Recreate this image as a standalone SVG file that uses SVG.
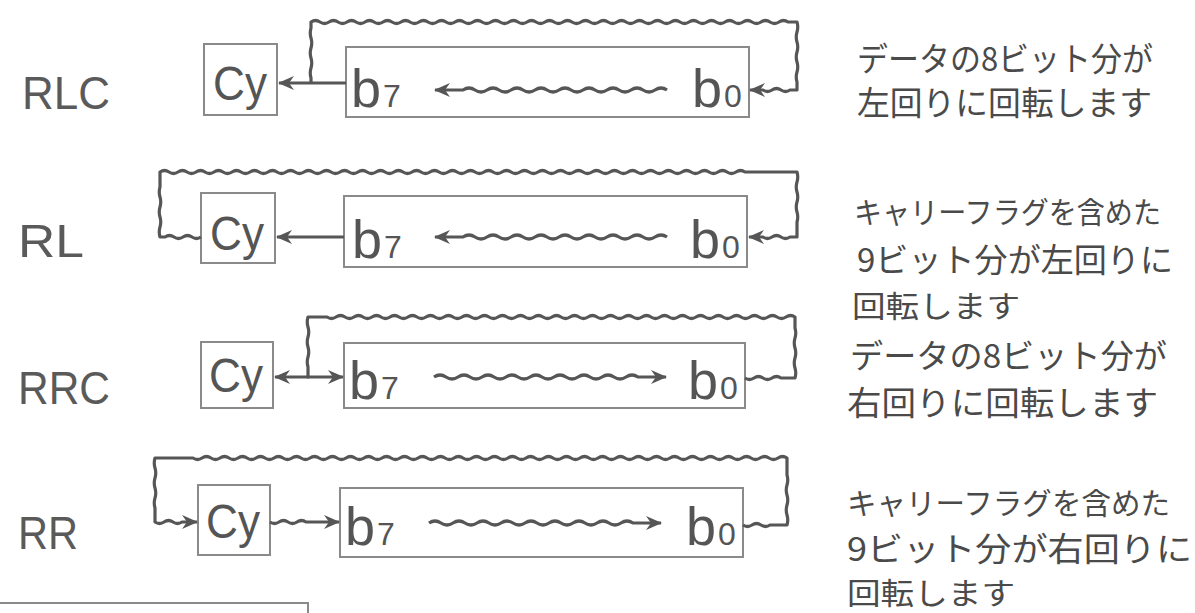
<svg xmlns="http://www.w3.org/2000/svg" width="1195" height="613" viewBox="0 0 1195 613">
<defs>
<style>
.box{fill:none;stroke:#8a8a8a;stroke-width:2}
.ln{fill:none;stroke:#565656;stroke-width:3.2;stroke-linejoin:round}
.arr{marker-end:url(#ah)}
.lab{font-family:"Liberation Sans",Arial,sans-serif;font-size:46px;fill:#5a5a5a}
.cy{font-family:"Liberation Sans",Arial,sans-serif;font-size:48px;fill:#555}
.bt{font-family:"Liberation Sans",Arial,sans-serif;font-size:54px;fill:#555}
.sub{font-size:32px}
.jp{font-family:"Noto Sans CJK JP","Noto Sans CJK SC",sans-serif;font-size:33px;fill:#4a4a4a}
.jpw{font-size:30px}
</style>
<marker id="ah" viewBox="0 0 16 14" refX="15" refY="7" markerWidth="16" markerHeight="14" markerUnits="userSpaceOnUse" orient="auto">
<path d="M0,0 L16,7 L0,14 L5,7 Z" fill="#565656"/>
</marker>
</defs>
<rect width="1195" height="613" fill="#ffffff"/>

<g id="row-rlc">
<text class="lab" x="22" y="109" textLength="88" lengthAdjust="spacingAndGlyphs">RLC</text>
<g id="rlc-cy"><rect class="box" x="204" y="44" width="73" height="71"/><text class="cy" x="213" y="100" textLength="54" lengthAdjust="spacingAndGlyphs">Cy</text></g>
<g id="rlc-bits"><rect class="box" x="346" y="47" width="403" height="70"/>
<text class="bt" x="351" y="107">b<tspan class="sub" dx="2">7</tspan></text>
<text class="bt" x="692" y="107">b<tspan class="sub" dx="2">0</tspan></text></g>
</g>

<g id="row-rl">
<text class="lab" x="18" y="257" textLength="66" lengthAdjust="spacingAndGlyphs">RL</text>
<g id="rl-cy"><rect class="box" x="201" y="193" width="74" height="70"/><text class="cy" x="210" y="250" textLength="54" lengthAdjust="spacingAndGlyphs">Cy</text></g>
<g id="rl-bits"><rect class="box" x="344" y="196" width="403" height="71"/>
<text class="bt" x="352" y="258">b<tspan class="sub" dx="2">7</tspan></text>
<text class="bt" x="690" y="258">b<tspan class="sub" dx="2">0</tspan></text></g>
</g>

<g id="row-rrc">
<text class="lab" x="18" y="404" textLength="92" lengthAdjust="spacingAndGlyphs">RRC</text>
<g id="rrc-cy"><rect class="box" x="201" y="342" width="72" height="66"/><text class="cy" x="209" y="392" textLength="54" lengthAdjust="spacingAndGlyphs">Cy</text></g>
<g id="rrc-bits"><rect class="box" x="344" y="343" width="401" height="65"/>
<text class="bt" x="349" y="399">b<tspan class="sub" dx="2">7</tspan></text>
<text class="bt" x="688" y="399">b<tspan class="sub" dx="2">0</tspan></text></g>
</g>

<g id="row-rr">
<text class="lab" x="18" y="549" textLength="60" lengthAdjust="spacingAndGlyphs">RR</text>
<g id="rr-cy"><rect class="box" x="198" y="485" width="72" height="70"/><text class="cy" x="206" y="538" textLength="54" lengthAdjust="spacingAndGlyphs">Cy</text></g>
<g id="rr-bits"><rect class="box" x="340" y="488" width="403" height="69"/>
<text class="bt" x="345" y="545">b<tspan class="sub" dx="2">7</tspan></text>
<text class="bt" x="686" y="545">b<tspan class="sub" dx="2">0</tspan></text></g>
</g>

<g id="connectors">
<!-- RLC -->
<path class="ln" d="M311,83 V78 q-1.5,-5 0,-10 t0,-10 t0,-10 t0,-10 t0,-10 V22 q4.5,-3 9,0 t9,0 t9,0 t9,0 t9,0 t9,0 t9,0 t9,0 t9,0 t9,0 t9,0 t9,0 t9,0 t9,0 t9,0 t9,0 t9,0 t9,0 t9,0 t9,0 t9,0 t9,0 t9,0 t9,0 t9,0 t9,0 t9,0 t9,0 t9,0 t9,0 t9,0 t9,0 t9,0 t9,0 t9,0 t9,0 t9,0 t9,0 t9,0 t9,0 t9,0 t9,0 t9,0 t9,0 t9,0 t9,0 t9,0 t9,0 t9,0 t9,0 t9,0 t9,0 t9,0 H797 q1.5,5 0,10 t0,10 t0,10 t0,10 t0,10 t0,10 V90 H790 q-4.5,3 -9,0 t-9,0 t-9,0 H750" marker-end="url(#ah)"/>
<path class="ln arr" d="M346,83 H279"/>
<path class="ln arr" d="M667,90 q-6,-4 -12,0 t-12,0 t-12,0 t-12,0 t-12,0 t-12,0 t-12,0 t-12,0 t-12,0 t-12,0 t-12,0 t-12,0 t-12,0 t-12,0 t-12,0 t-12,0 t-12,0 H435"/>
<!-- RL -->
<path class="ln" d="M201,237 q-4.5,3 -9,0 t-9,0 t-9,0 t-9,0 H160 q-1.5,-5 0,-10 t0,-10 t0,-10 t0,-10 t0,-10 V172 q4.5,-3 9,0 t9,0 t9,0 t9,0 t9,0 t9,0 t9,0 t9,0 t9,0 t9,0 t9,0 t9,0 t9,0 t9,0 t9,0 t9,0 t9,0 t9,0 t9,0 t9,0 t9,0 t9,0 t9,0 t9,0 t9,0 t9,0 t9,0 t9,0 t9,0 t9,0 t9,0 t9,0 t9,0 t9,0 t9,0 t9,0 t9,0 t9,0 t9,0 t9,0 t9,0 t9,0 t9,0 t9,0 t9,0 t9,0 t9,0 t9,0 t9,0 t9,0 t9,0 t9,0 t9,0 t9,0 t9,0 t9,0 t9,0 t9,0 t9,0 t9,0 t9,0 t9,0 t9,0 t9,0 t9,0 H797 q1.5,5 0,10 t0,10 t0,10 t0,10 t0,10 V237 H790 q-4.5,3 -9,0 t-9,0 t-9,0 H749" marker-end="url(#ah)"/>
<path class="ln arr" d="M344,237 H277"/>
<path class="ln arr" d="M667,237 q-6,-4 -12,0 t-12,0 t-12,0 t-12,0 t-12,0 t-12,0 t-12,0 t-12,0 t-12,0 t-12,0 t-12,0 t-12,0 t-12,0 t-12,0 t-12,0 t-12,0 t-12,0 H435"/>
<!-- RRC -->
<path class="ln" d="M745,378 q4.5,3 9,0 t9,0 t9,0 t9,0 H795 q1.5,-5 0,-10 t0,-10 t0,-10 t0,-10 t0,-10 V317 q-4.5,-3 -9,0 t-9,0 t-9,0 t-9,0 t-9,0 t-9,0 t-9,0 t-9,0 t-9,0 t-9,0 t-9,0 t-9,0 t-9,0 t-9,0 t-9,0 t-9,0 t-9,0 t-9,0 t-9,0 t-9,0 t-9,0 t-9,0 t-9,0 t-9,0 t-9,0 t-9,0 t-9,0 t-9,0 t-9,0 t-9,0 t-9,0 t-9,0 t-9,0 t-9,0 t-9,0 t-9,0 t-9,0 t-9,0 t-9,0 t-9,0 t-9,0 t-9,0 t-9,0 t-9,0 t-9,0 t-9,0 t-9,0 t-9,0 t-9,0 t-9,0 t-9,0 t-9,0 H308 q-1.5,5 0,10 t0,10 t0,10 t0,10 t0,10 V377"/>
<path class="ln arr" d="M309,377 H275"/>
<path class="ln arr" d="M307,377 H343"/>
<path class="ln arr" d="M434,377 q6,-4 12,0 t12,0 t12,0 t12,0 t12,0 t12,0 t12,0 t12,0 t12,0 t12,0 t12,0 t12,0 t12,0 t12,0 t12,0 t12,0 t12,0 H666"/>
<!-- RR -->
<path class="ln" d="M743,525 q4.5,3 9,0 t9,0 t9,0 H787 q1.5,-5 0,-10 t0,-10 t0,-10 t0,-10 t0,-10 V458 q-4.5,-3 -9,0 t-9,0 t-9,0 t-9,0 t-9,0 t-9,0 t-9,0 t-9,0 t-9,0 t-9,0 t-9,0 t-9,0 t-9,0 t-9,0 t-9,0 t-9,0 t-9,0 t-9,0 t-9,0 t-9,0 t-9,0 t-9,0 t-9,0 t-9,0 t-9,0 t-9,0 t-9,0 t-9,0 t-9,0 t-9,0 t-9,0 t-9,0 t-9,0 t-9,0 t-9,0 t-9,0 t-9,0 t-9,0 t-9,0 t-9,0 t-9,0 t-9,0 t-9,0 t-9,0 t-9,0 t-9,0 t-9,0 t-9,0 t-9,0 t-9,0 t-9,0 t-9,0 t-9,0 t-9,0 t-9,0 t-9,0 t-9,0 t-9,0 t-9,0 t-9,0 t-9,0 t-9,0 t-9,0 t-9,0 t-9,0 t-9,0 H155 q-1.5,5 0,10 t0,10 t0,10 t0,10 t0,10 V522 q4.5,3 9,0 t9,0 t9,0 H197" marker-end="url(#ah)"/>
<path class="ln arr" d="M270,522 q4.5,3 9,0 t9,0 t9,0 t9,0 H339"/>
<path class="ln arr" d="M429,523 q6,-4 12,0 t12,0 t12,0 t12,0 t12,0 t12,0 t12,0 t12,0 t12,0 t12,0 t12,0 t12,0 t12,0 t12,0 t12,0 t12,0 t12,0 H661"/>
</g>

<g id="notes">
<text class="jp" x="857" y="71" textLength="296" lengthAdjust="spacingAndGlyphs">データの8ビット分が</text>
<text class="jp" x="857" y="115" textLength="295" lengthAdjust="spacingAndGlyphs">左回りに回転します</text>
<text class="jp jpw" x="854" y="223" textLength="307" lengthAdjust="spacingAndGlyphs">キャリーフラグを含めた</text>
<text class="jp" x="857" y="272" textLength="316" lengthAdjust="spacingAndGlyphs">9ビット分が左回りに</text>
<text class="jp jpw" x="852" y="317" textLength="168" lengthAdjust="spacingAndGlyphs">回転します</text>
<text class="jp" x="850" y="368" textLength="317" lengthAdjust="spacingAndGlyphs">データの8ビット分が</text>
<text class="jp" x="847" y="415" textLength="311" lengthAdjust="spacingAndGlyphs">右回りに回転します</text>
<text class="jp jpw" x="847" y="514" textLength="323" lengthAdjust="spacingAndGlyphs">キャリーフラグを含めた</text>
<text class="jp" x="847" y="561" textLength="345" lengthAdjust="spacingAndGlyphs">9ビット分が右回りに</text>
<text class="jp jpw" x="847" y="604" textLength="168" lengthAdjust="spacingAndGlyphs">回転します</text>
</g>

<path id="frame-fragment" class="box" d="M0,603 H308 V613"/>
</svg>
